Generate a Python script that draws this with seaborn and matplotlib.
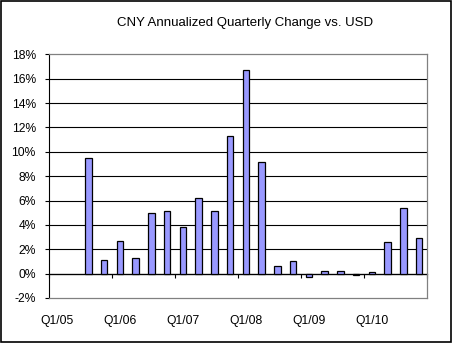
import numpy as np
import pandas as pd
import matplotlib
matplotlib.use("Agg")
import matplotlib.pyplot as plt
from matplotlib.patches import Rectangle
import seaborn as sns

# Quarterly annualized change of CNY vs USD (%), Q1/05 .. Q4/10
quarters = [f"Q{q}/{y:02d}" for y in range(5, 11) for q in range(1, 5)]
changes = [np.nan, np.nan, 9.5, 1.1,
           2.7, 1.3, 5.0, 5.1,
           3.8, 6.2, 5.1, 11.3,
           16.7, 9.2, 0.6, 1.0,
           -0.3, 0.2, 0.2, -0.1,
           0.1, 2.6, 5.4, 2.9]
year_labels = ["Q1/05", "Q1/06", "Q1/07", "Q1/08", "Q1/09", "Q1/10"]
y_ticks = list(range(-2, 19, 2))

sns.set_theme(style="white")
plt.rcParams["font.family"] = ["Liberation Sans", "DejaVu Sans"]

df = pd.DataFrame({"quarter": quarters, "change": changes})

fig = plt.figure(figsize=(4.53, 3.43), dpi=100)
ax = fig.add_axes([49 / 453, 45 / 343, 378 / 453, 243.7 / 343])

sns.barplot(data=df, x="quarter", y="change", order=quarters,
            color="#9999FF", saturation=1, width=0.42,
            edgecolor="black", linewidth=0.9, errorbar=None, ax=ax, zorder=3)

ax.set_xlim(-0.5, len(quarters) - 0.5)
ax.set_ylim(-2, 18)
ax.set_xlabel("")
ax.set_ylabel("")

# horizontal gridlines
for v in y_ticks[1:-1]:
    ax.axhline(v, color="black", linewidth=0.8, zorder=1)

ax.set_yticks(y_ticks)
ax.set_yticklabels([f"{v}%" for v in y_ticks])
ax.tick_params(axis="y", direction="out", length=3, width=0.8, color="black",
               pad=6.5, labelsize=8.7, left=True, labelcolor="black")

ax.set_xticks(range(0, len(quarters), 4))
ax.set_xticklabels(year_labels)
ax.tick_params(axis="x", length=0, pad=12, labelsize=8.7, labelcolor="black")

for side in ["top", "right", "bottom"]:
    ax.spines[side].set_color("#808080")
    ax.spines[side].set_linewidth(0.9)
ax.spines["left"].set_color("black")
ax.spines["left"].set_linewidth(0.8)

# category axis along the zero line with boundary ticks every 4 quarters
zero_frac = 2 / 20
sec = ax.secondary_xaxis(zero_frac)
sec.set_xticks(np.arange(-0.5, len(quarters), 4))
sec.set_xticklabels([])
sec.tick_params(direction="out", length=3, width=0.8, color="black")
sec.spines["bottom"].set_color("black")
sec.spines["bottom"].set_linewidth(0.9)

fig.text(245 / 453, 1 - 23 / 343, "CNY Annualized Quarterly Change vs. USD",
         ha="center", va="center", fontsize=9.5, color="black")

# chart border
fig.patches.append(Rectangle((1 / 453, 1 / 343), 450 / 453, 341 / 343,
                             transform=fig.transFigure, fill=False,
                             edgecolor="black", linewidth=1.2))

fig.savefig("out.png", dpi=100)
